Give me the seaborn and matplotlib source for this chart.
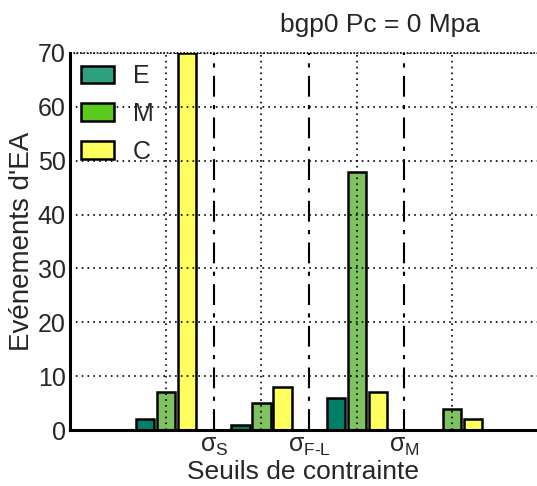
import matplotlib
matplotlib.use("Agg")
import matplotlib.pyplot as plt
from matplotlib.patches import Patch
import seaborn as sns
import pandas as pd

# data
groups = ["G1", "G2", "G3", "G4"]
series = ["E", "M", "C"]
values_E = [2, 1, 6, 0]
values_M = [7, 5, 48, 4]
values_C = [70, 8, 7, 2]
threshold_labels = [r"$\sigma_{\mathrm{S}}$", r"$\sigma_{\mathrm{F\text{-}L}}$", r"$\sigma_{\mathrm{M}}$"]
y_ticks = [0, 10, 20, 30, 40, 50, 60, 70]

bar_colors = ["#007f68", "#80c262", "#ffff5e"]
legend_colors = ["#2fa07f", "#5acb1c", "#ffff5e"]

df = pd.DataFrame({
    "group": groups * 3,
    "serie": [s for s in series for _ in groups],
    "value": values_E + values_M + values_C,
})

sns.set_style("white")
plt.rcParams["font.family"] = ["Liberation Sans", "DejaVu Sans"]
plt.rcParams["mathtext.fontset"] = "custom"
plt.rcParams["mathtext.rm"] = "Liberation Sans"
plt.rcParams["mathtext.it"] = "Liberation Sans"

fig = plt.figure(figsize=(5.37, 4.86), dpi=100)
ax = fig.add_axes([0.130, 0.115, 0.87, 0.776])

sns.barplot(data=df, x="group", y="value", hue="serie", hue_order=series,
            palette=bar_colors, saturation=1, width=0.66, gap=0.12,
            edgecolor="black", linewidth=1.8, legend=False, ax=ax)

ax.set_xlim(-1.01, 3.89)
ax.set_ylim(0, 70)
ax.set_yticks(y_ticks)
ax.tick_params(axis="y", labelsize=18, length=0, pad=3)

# dotted grid drawn above the bars
ax.set_axisbelow(False)
ax.grid(True, axis="y", linestyle=(0, (1, 2.5)), color="black", linewidth=1.2)

# threshold lines between groups
for xv in [0.5, 1.5, 2.5]:
    ax.axvline(xv, color="black", linestyle=(0, (10, 4, 2, 4)), linewidth=1.5, zorder=3)
for xv in range(len(groups)):
    ax.axvline(xv, color="black", linestyle=(0, (1, 2.5)), linewidth=1.2, zorder=3)
ax.axhline(70, color="black", linewidth=1.2, linestyle=(0, (1, 1)), clip_on=False)

ax.set_xticks([0.5, 1.5, 2.5])
ax.set_xticklabels(threshold_labels, fontsize=18)
ax.tick_params(axis="x", length=0, pad=3)

for side in ["top", "right"]:
    ax.spines[side].set_visible(False)
for side in ["left", "bottom"]:
    ax.spines[side].set_linewidth(2.2)
    ax.spines[side].set_color("black")

ax.set_xlabel("Seuils de contrainte", fontsize=19, labelpad=1)
ax.set_ylabel("Evénements d'EA", fontsize=20, labelpad=2)

handles = [Patch(facecolor=c, edgecolor="black", linewidth=1.8) for c in legend_colors]
ax.legend(handles, series, loc="upper left", frameon=False, fontsize=18,
          handlelength=1.32, handleheight=0.72, labelspacing=0.55,
          borderaxespad=0.05, handletextpad=0.75)

fig.text(0.708, 0.949, "bgp0 Pc = 0 Mpa", fontsize=19, ha="center", va="center")

fig.savefig("out.png", dpi=100)
